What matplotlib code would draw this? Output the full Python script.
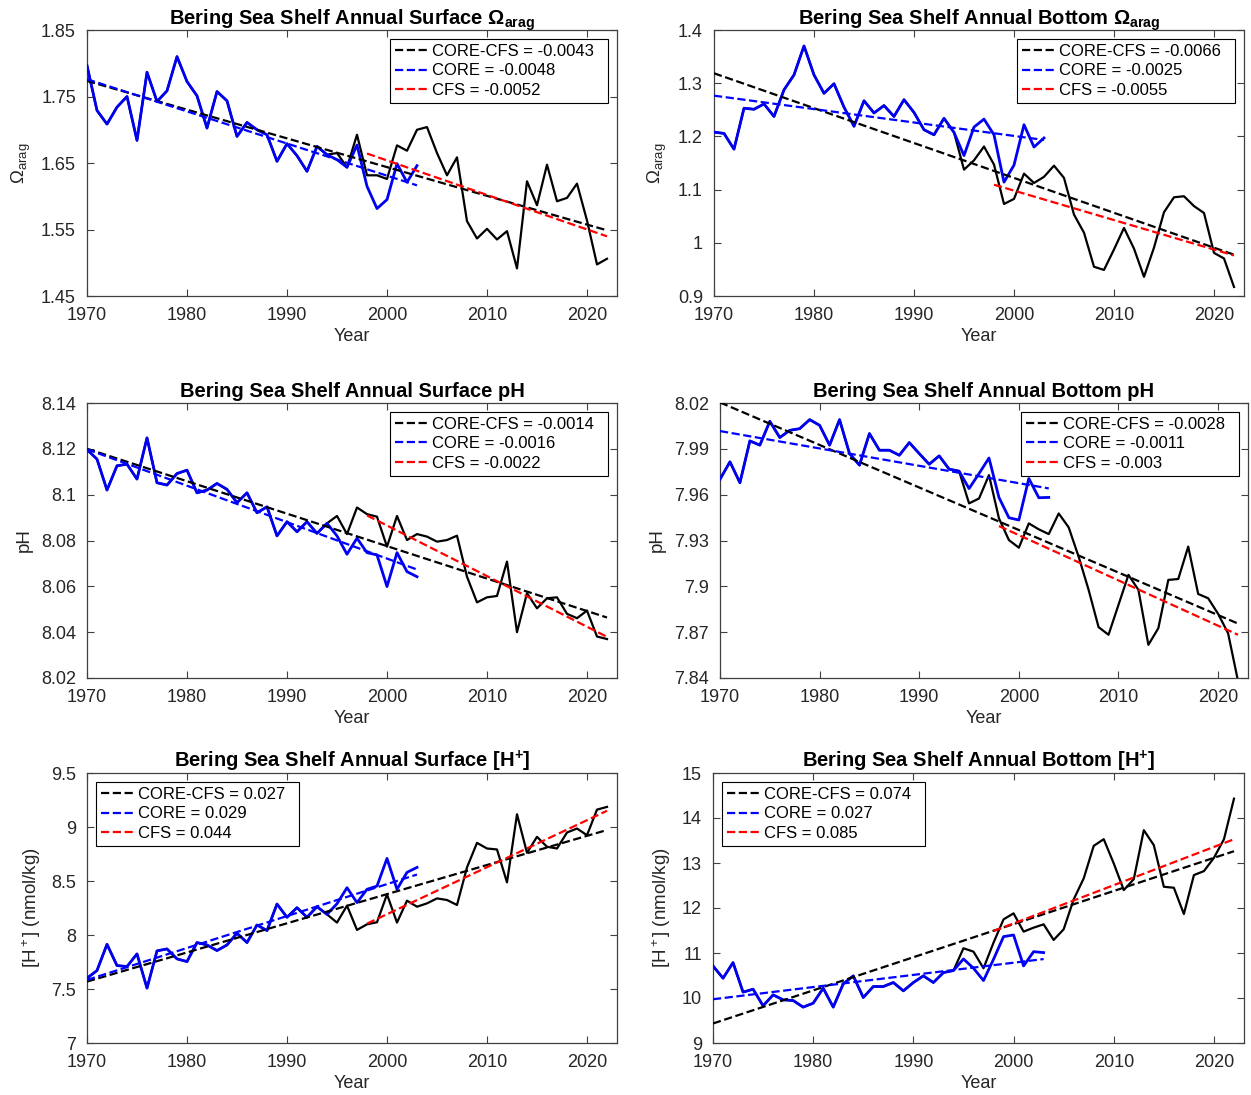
import numpy as np
import matplotlib
matplotlib.use('Agg')
import matplotlib.pyplot as plt
from matplotlib.ticker import FuncFormatter

plt.rcParams['font.family'] = ['Liberation Sans', 'DejaVu Sans']
plt.rcParams['mathtext.fontset'] = 'custom'
plt.rcParams['mathtext.rm'] = 'Liberation Sans'
plt.rcParams['mathtext.it'] = 'Liberation Sans:italic'
plt.rcParams['mathtext.bf'] = 'Liberation Sans:bold'

# years
core_years = np.arange(1970, 2004)   # CORE run
late_years = np.arange(1995, 2023)   # where the combined series leaves CORE
split_year = 1995
cfs_start = 1998

# ---- surface omega arag
om_s_core = [1.7965, 1.729, 1.7085, 1.734, 1.75, 1.684, 1.7865, 1.7425, 1.7585, 1.81,
             1.7725, 1.751, 1.7025, 1.7575, 1.7435, 1.69, 1.711, 1.70, 1.6925, 1.6525,
             1.679, 1.661, 1.6375, 1.675, 1.6625, 1.655, 1.6435, 1.677, 1.615, 1.5815,
             1.595, 1.649, 1.621, 1.646]
om_s_late = [1.665, 1.6435, 1.6925, 1.6315, 1.6315, 1.626, 1.6765, 1.6685, 1.70, 1.704,
             1.665, 1.6315, 1.6585, 1.5625, 1.5365, 1.551, 1.535, 1.5475, 1.4915, 1.6225,
             1.5865, 1.6475, 1.5925, 1.5975, 1.619, 1.5635, 1.4975, 1.506]
om_s_slopes = ['-0.0043', '-0.0048', '-0.0052']

# ---- bottom omega arag
om_b_core = [1.208, 1.2056, 1.176, 1.253, 1.251, 1.261, 1.2375, 1.2875, 1.3156, 1.37,
             1.3156, 1.281, 1.299, 1.255, 1.219, 1.267, 1.244, 1.258, 1.2375, 1.269,
             1.245, 1.2125, 1.203, 1.234, 1.2075, 1.164, 1.2175, 1.2325, 1.203, 1.114,
             1.146, 1.222, 1.18, 1.197]
om_b_late = [1.1375, 1.155, 1.181, 1.147, 1.073, 1.0825, 1.13, 1.1125, 1.124, 1.145,
             1.122, 1.053, 1.019, 0.955, 0.949, 0.9875, 1.028, 0.989, 0.936, 0.991,
             1.0575, 1.0856, 1.0875, 1.069, 1.056, 0.981, 0.9706, 0.917]
om_b_slopes = ['-0.0066', '-0.0025', '-0.0055']

# ---- surface pH
ph_s_core = [8.1197, 8.1155, 8.102, 8.1126, 8.1133, 8.1068, 8.1248, 8.1052, 8.1042, 8.1092,
             8.1107, 8.1008, 8.102, 8.1049, 8.1023, 8.0965, 8.1008, 8.0921, 8.0947, 8.082,
             8.0882, 8.0838, 8.0882, 8.0831, 8.0875, 8.082, 8.074, 8.081, 8.0747, 8.0737,
             8.0599, 8.0747, 8.0664, 8.0642]
ph_s_late = [8.0907, 8.0828, 8.0944, 8.0915, 8.0904, 8.0773, 8.0907, 8.0802, 8.0828, 8.0817,
             8.0795, 8.0802, 8.0821, 8.0642, 8.053, 8.0552, 8.0558, 8.0708, 8.04, 8.057,
             8.0504, 8.0548, 8.0552, 8.048, 8.0461, 8.0494, 8.0381, 8.037]
ph_s_slopes = ['-0.0014', '-0.0016', '-0.0022']

# ---- bottom pH
ph_b_core = [7.9701, 7.9815, 7.9678, 7.9952, 7.9924, 8.008, 7.9974, 8.0021, 8.0032, 8.0091,
             8.0054, 7.9924, 8.0091, 7.9869, 7.9793, 8.00, 7.9891, 7.9891, 7.9858, 7.9941,
             7.9869, 7.9799, 7.9854, 7.9767, 7.9754, 7.964, 7.9738, 7.984, 7.9582, 7.9449,
             7.9434, 7.9706, 7.958, 7.9582]
ph_b_late = [7.9543, 7.9575, 7.9728, 7.9445, 7.9303, 7.9253, 7.9412, 7.9373, 7.9342, 7.9477,
             7.9386, 7.9194, 7.8977, 7.8733, 7.8683, 7.8879, 7.9075, 7.8977, 7.8617, 7.8726,
             7.9042, 7.9048, 7.926, 7.895, 7.8922, 7.882, 7.8693, 7.838]
ph_b_slopes = ['-0.0028', '-0.0011', '-0.003']

# ---- surface [H+]
h_s_core = [7.6, 7.671, 7.914, 7.717, 7.708, 7.825, 7.508, 7.853, 7.871, 7.779,
            7.754, 7.93, 7.908, 7.856, 7.908, 8.016, 7.93, 8.093, 8.041, 8.287,
            8.164, 8.253, 8.164, 8.262, 8.191, 8.29, 8.438, 8.30, 8.423, 8.453,
            8.709, 8.423, 8.58, 8.626]
h_s_late = [8.115, 8.272, 8.047, 8.099, 8.118, 8.376, 8.115, 8.318, 8.262, 8.293,
            8.339, 8.324, 8.278, 8.626, 8.853, 8.801, 8.792, 8.487, 9.118, 8.761,
            8.909, 8.817, 8.801, 8.949, 8.986, 8.924, 9.161, 9.186]
h_s_slopes = ['0.027', '0.029', '0.044']

# ---- bottom [H+]
h_b_core = [10.713, 10.44, 10.787, 10.13, 10.196, 9.826, 10.07, 9.959, 9.944, 9.797,
            9.885, 10.218, 9.797, 10.314, 10.492, 10.011, 10.255, 10.255, 10.344, 10.159,
            10.344, 10.492, 10.344, 10.565, 10.61, 10.868, 10.661, 10.388, 10.861, 11.364,
            11.40, 10.713, 11.03, 11.009]
h_b_late = [11.105, 11.03, 10.661, 11.23, 11.748, 11.881, 11.475, 11.563, 11.637, 11.29,
            11.526, 12.191, 12.657, 13.381, 13.529, 12.99, 12.398, 12.642, 13.729, 13.396,
            12.472, 12.45, 11.866, 12.731, 12.82, 13.115, 13.529, 14.43]
h_b_slopes = ['0.074', '0.027', '0.085']

W, H = 1251, 1095
fig = plt.figure(figsize=(W / 100, H / 100), dpi=100)


def add_ax(l, r, t, b):
    return fig.add_axes([l / W, 1 - b / H, (r - l) / W, (b - t) / H])


def panel(ax, core, late, slopes, title, ylab, ylim, ystep, legloc):
    core = np.array(core)
    yrs = np.arange(1970, 2023)
    n_early = split_year - 1970
    comb = np.concatenate([core[:n_early], np.array(late)])

    ax.plot(yrs, comb, color='k', lw=1.6, zorder=2)
    ax.plot(core_years, core, color=(0, 0, 0.95), lw=2.0, zorder=3)

    # linear trends
    p = np.polyfit(yrs, comb, 1)
    l1, = ax.plot(yrs, np.polyval(p, yrs), '--', color='k', lw=1.6, zorder=4)
    p = np.polyfit(core_years, core, 1)
    l2, = ax.plot(core_years, np.polyval(p, core_years), '--', color='b', lw=1.6, zorder=5)
    m = yrs >= cfs_start
    p = np.polyfit(yrs[m], comb[m], 1)
    l3, = ax.plot(yrs[m], np.polyval(p, yrs[m]), '--', color='r', lw=1.6, zorder=6)

    ax.set_xlim(1970, 2023)
    ax.set_xticks(np.arange(1970, 2021, 10))
    ax.set_ylim(*ylim)
    ax.set_yticks(np.arange(ylim[0], ylim[1] + ystep / 2, ystep))
    ax.yaxis.set_major_formatter(FuncFormatter(lambda v, pos: '%g' % round(v, 4)))
    ax.tick_params(direction='in', top=True, right=True, length=5, labelsize=13,
                   color='0.25', labelcolor='0.15')
    ax.tick_params(axis='x', pad=8)
    ax.tick_params(axis='y', pad=8)
    for s in ax.spines.values():
        s.set_color('0.25')
        s.set_linewidth(0.9)
    ax.set_xlabel('Year', fontsize=13, color='0.15', labelpad=3)
    ax.set_ylabel(ylab, fontsize=13.5, color='0.15', labelpad=6)
    ax.set_title(title, fontsize=14.5, fontweight='bold', pad=4)

    leg = ax.legend([l1, l2, l3],
                    ['CORE-CFS = ' + slopes[0] + '  ', 'CORE = ' + slopes[1],
                     'CFS = ' + slopes[2]],
                    loc=legloc, fontsize=12, fancybox=False, framealpha=1,
                    edgecolor='k', handlelength=2.1, handletextpad=0.1,
                    labelspacing=0.25, borderpad=0.3, borderaxespad=0.55)
    leg.get_frame().set_linewidth(0.8)


ax1 = add_ax(87, 617, 30, 296)
panel(ax1, om_s_core, om_s_late, om_s_slopes,
      r'Bering Sea Shelf Annual Surface $\mathbf{\Omega_{arag}}$', r'$\Omega_{\rm arag}$',
      (1.45, 1.85), 0.1, 'upper right')

ax2 = add_ax(714, 1244, 30, 296)
panel(ax2, om_b_core, om_b_late, om_b_slopes,
      r'Bering Sea Shelf Annual Bottom $\mathbf{\Omega_{arag}}$', r'$\Omega_{\rm arag}$',
      (0.9, 1.4), 0.1, 'upper right')

ax3 = add_ax(87, 617, 403, 678)
panel(ax3, ph_s_core, ph_s_late, ph_s_slopes,
      'Bering Sea Shelf Annual Surface pH', 'pH', (8.02, 8.14), 0.02, 'upper right')

ax4 = add_ax(720, 1248, 403, 678)
panel(ax4, ph_b_core, ph_b_late, ph_b_slopes,
      'Bering Sea Shelf Annual Bottom pH', 'pH', (7.84, 8.02), 0.03, 'upper right')

ax5 = add_ax(87, 617, 773, 1043)
panel(ax5, h_s_core, h_s_late, h_s_slopes,
      r'Bering Sea Shelf Annual Surface [H$^{\mathbf{+}}$]', r'[H$^+$] (nmol/kg)',
      (7, 9.5), 0.5, 'upper left')

ax6 = add_ax(713, 1244, 773, 1043)
panel(ax6, h_b_core, h_b_late, h_b_slopes,
      r'Bering Sea Shelf Annual Bottom [H$^{\mathbf{+}}$]', r'[H$^+$] (nmol/kg)',
      (9, 15), 1, 'upper left')

plt.savefig('out.png', dpi=100)
